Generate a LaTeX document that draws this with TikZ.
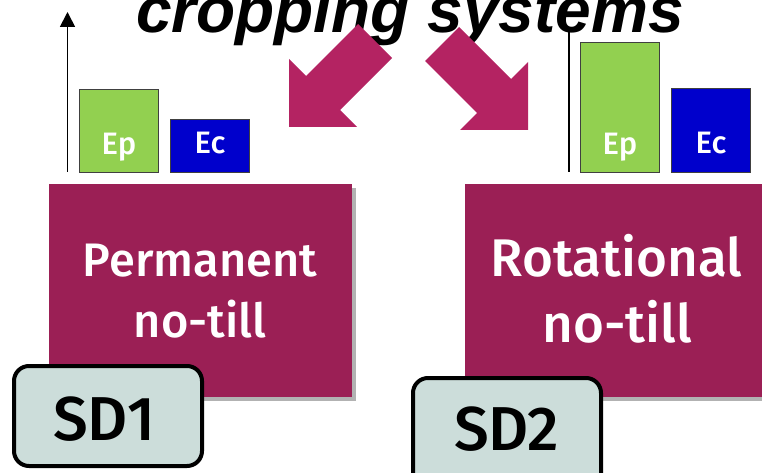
\documentclass[tikz,border=0pt]{standalone}
\usepackage{fontspec}
\newfontfamily\titlefont{Liberation Sans}
\newfontfamily\boxfont{Fira Sans Medium}
\usetikzlibrary{shadows,arrows.meta}
\definecolor{boxmag}{HTML}{9B1F55}
\definecolor{arrowmag}{HTML}{B42362}
\definecolor{epgreen}{HTML}{92D050}
\definecolor{ecblue}{HTML}{0000CC}
\definecolor{sdfill}{HTML}{CCDDDA}
\begin{document}
\begin{tikzpicture}[x=1pt,y=-1pt,
  barrect/.style={draw=black!75,line width=0.9pt},
  barlabel/.style={text=white,font=\boxfont\fontsize{31}{31}\selectfont,anchor=base,inner sep=0pt},
  sysbox/.style={fill=boxmag,draw=none,drop shadow={shadow xshift=4pt,shadow yshift=-4pt,fill=black,opacity=0.3}},
  systext/.style={text=white,font=\boxfont\fontsize{47}{47}\selectfont,anchor=base,inner sep=0pt},
  systextbig/.style={text=white,font=\boxfont\fontsize{53}{53}\selectfont,anchor=base,inner sep=0pt},
  sdbox/.style={draw=black,line width=4pt,fill=sdfill,rounded corners=15pt},
  sdtext/.style={text=black,font=\boxfont\fontsize{62}{62}\selectfont,anchor=base,inner sep=0pt},
  axisline/.style={line width=1.8pt},
  bigarrow/.style={fill=arrowmag}]
\useasboundingbox (0,0) rectangle (762,473);
\clip (0,0) rectangle (762,473);
% axes
\coordinate (a1b) at (67.5,172);
\coordinate (a1t) at (67.5,12);
\coordinate (a2b) at (569,172);
\coordinate (a2t) at (569,30);
\draw[axisline,-{Triangle[length=15pt,width=15pt]}] (a1b) -- (a1t);
\draw[axisline] (a2b) -- (a2t);
% bars
\path[barrect,fill=epgreen] (79,89) rectangle (158,172);
\path[barrect,fill=ecblue] (170,119) rectangle (249,172);
\path[barrect,fill=epgreen] (580,42) rectangle (659,172);
\path[barrect,fill=ecblue] (671,88) rectangle (750,172);
\node[barlabel] (ep1) at (119,155) {Ep};
\node[barlabel] (ec1) at (210,154) {Ec};
\node[barlabel] (ep2) at (620,155) {Ep};
\node[barlabel] (ec2) at (711,154) {Ec};
% title
\node[font=\titlefont\bfseries\itshape\fontsize{64}{64}\selectfont,anchor=base,inner sep=0pt] (title) at (410,33) {cropping systems};
% block arrows
\fill[bigarrow] (289,59) -- (289,127) -- (357,127) -- (340,110) -- (392,58) -- (358,24) -- (306,76) -- cycle;
\fill[bigarrow] (528,62) -- (528,130) -- (460,130) -- (477,113) -- (425,61) -- (459,27) -- (511,79) -- cycle;
% system boxes
\path[sysbox] (49,184) rectangle (352,397);
\path[sysbox] (465,184) rectangle (790,397);
\node[systext] (p1) at (200,276) {Permanent};
\node[systext] (p2) at (200,337) {no-till};
\node[systextbig] (r1) at (616.5,276) {Rotational};
\node[systextbig] (r2) at (617.5,342) {no-till};
% SD labels
\path[sdbox] (14,366) rectangle (202,466);
\path[sdbox] (413,378) rectangle (601,500);
\node[sdtext] (sd1) at (104,440) {SD1};
\node[sdtext] (sd2) at (506.5,450) {SD2};
\end{tikzpicture}
\end{document}
